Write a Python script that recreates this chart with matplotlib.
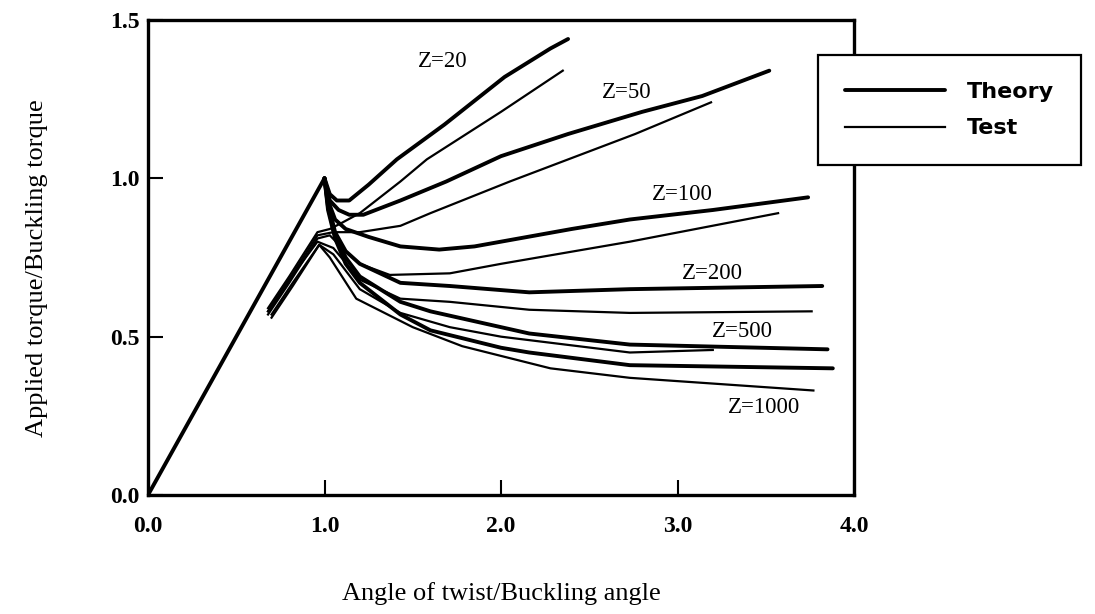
import matplotlib.pyplot as plt

# normalised torque vs normalised twist
# linear pre-buckling part shared by all theory curves
rise_x = [0.0, 1.0]
rise_y = [0.0, 1.0]

# Z=20
th20_x = [1.00, 1.03, 1.07, 1.14, 1.25, 1.41, 1.68, 2.02, 2.28, 2.38]
th20_y = [1.00, 0.95, 0.93, 0.93, 0.98, 1.06, 1.17, 1.32, 1.41, 1.44]
te20_x = [0.68, 0.80, 0.96, 1.03, 1.10, 1.20, 1.43, 1.58, 2.00, 2.35]
te20_y = [0.59, 0.69, 0.83, 0.84, 0.86, 0.89, 0.99, 1.06, 1.21, 1.34]

# Z=50
th50_x = [1.00, 1.03, 1.08, 1.14, 1.22, 1.43, 1.69, 2.00, 2.38, 2.80, 3.14, 3.52]
th50_y = [1.00, 0.93, 0.90, 0.885, 0.885, 0.93, 0.99, 1.07, 1.14, 1.21, 1.26, 1.34]
te50_x = [0.68, 0.80, 0.96, 1.05, 1.20, 1.43, 1.60, 2.05, 2.76, 3.19]
te50_y = [0.58, 0.68, 0.82, 0.83, 0.83, 0.85, 0.89, 0.99, 1.14, 1.24]

# Z=100
th100_x = [1.00, 1.02, 1.06, 1.12, 1.25, 1.43, 1.65, 1.85, 2.00, 2.40, 2.73, 3.20, 3.74]
th100_y = [1.00, 0.93, 0.87, 0.84, 0.815, 0.785, 0.775, 0.785, 0.80, 0.84, 0.87, 0.90, 0.94]
te100_x = [0.68, 0.80, 0.96, 1.03, 1.10, 1.20, 1.37, 1.71, 2.00, 2.73, 3.57]
te100_y = [0.57, 0.67, 0.81, 0.82, 0.78, 0.73, 0.695, 0.70, 0.73, 0.80, 0.89]

# Z=200
th200_x = [1.00, 1.02, 1.06, 1.12, 1.20, 1.43, 1.71, 2.16, 2.73, 3.82]
th200_y = [1.00, 0.92, 0.83, 0.77, 0.73, 0.67, 0.66, 0.64, 0.65, 0.66]
te200_x = [0.68, 0.80, 0.96, 1.05, 1.20, 1.43, 1.71, 2.16, 2.73, 3.76]
te200_y = [0.58, 0.68, 0.80, 0.78, 0.68, 0.62, 0.61, 0.585, 0.575, 0.58]

# Z=500
th500_x = [1.00, 1.02, 1.06, 1.12, 1.20, 1.43, 1.60, 2.00, 2.16, 2.73, 3.85]
th500_y = [1.00, 0.91, 0.82, 0.75, 0.69, 0.61, 0.58, 0.53, 0.51, 0.475, 0.46]
te500_x = [0.70, 0.82, 0.97, 1.05, 1.20, 1.43, 1.71, 2.00, 2.73, 3.20]
te500_y = [0.57, 0.67, 0.79, 0.76, 0.65, 0.575, 0.53, 0.50, 0.45, 0.458]

# Z=1000
th1000_x = [1.00, 1.02, 1.06, 1.12, 1.20, 1.43, 1.60, 2.00, 2.16, 2.73, 3.88]
th1000_y = [1.00, 0.90, 0.81, 0.73, 0.67, 0.57, 0.52, 0.465, 0.45, 0.41, 0.40]
te1000_x = [0.70, 0.82, 0.97, 1.03, 1.18, 1.50, 1.78, 2.28, 2.73, 3.77]
te1000_y = [0.56, 0.66, 0.79, 0.75, 0.62, 0.53, 0.47, 0.40, 0.37, 0.33]

z_labels = ["Z=20", "Z=50", "Z=100", "Z=200", "Z=500", "Z=1000"]
z_label_x = [1.67, 2.71, 3.03, 3.20, 3.37, 3.49]
z_label_y = [1.37, 1.27, 0.95, 0.70, 0.515, 0.275]

xticks = [0.0, 1.0, 2.0, 3.0, 4.0]
yticks = [0.0, 0.5, 1.0, 1.5]

serif = "Liberation Serif"
lw_th = 2.8
lw_te = 1.6

fig = plt.figure(figsize=(10.95, 6.14), dpi=100)
ax = fig.add_axes([148 / 1095, 1 - 495 / 614, 706 / 1095, 475 / 614])

ax.plot(rise_x, rise_y, color="black", lw=lw_th, label="Theory", solid_capstyle="round")
theory = [(th20_x, th20_y), (th50_x, th50_y), (th100_x, th100_y),
          (th200_x, th200_y), (th500_x, th500_y), (th1000_x, th1000_y)]
tests = [(te20_x, te20_y), (te50_x, te50_y), (te100_x, te100_y),
         (te200_x, te200_y), (te500_x, te500_y), (te1000_x, te1000_y)]
for xs, ys in theory:
    ax.plot(xs, ys, color="black", lw=lw_th, solid_capstyle="round", solid_joinstyle="round")
for i, (xs, ys) in enumerate(tests):
    ax.plot(xs, ys, color="black", lw=lw_te, solid_joinstyle="round",
            label="Test" if i == 0 else None)

for lab, x, y in zip(z_labels, z_label_x, z_label_y):
    ax.text(x, y, lab, ha="center", va="center", fontsize=16.5, family=serif)

ax.set_xlim(0, 4)
ax.set_ylim(0, 1.5)
ax.set_xticks(xticks)
ax.set_xticklabels([f"{t:.1f}" for t in xticks])
ax.set_yticks(yticks)
ax.set_yticklabels([f"{t:.1f}" for t in yticks])
ax.tick_params(direction="in", length=11, width=1.5, labelsize=17)
ax.tick_params(axis="x", pad=15)
ax.tick_params(axis="y", pad=6)
for lab in ax.get_xticklabels() + ax.get_yticklabels():
    lab.set_family(serif)
    lab.set_fontweight("bold")
for sp in ax.spines.values():
    sp.set_linewidth(2.4)

fig.text(501 / 1095, 1 - 594 / 614, "Angle of twist/Buckling angle",
         ha="center", va="center", fontsize=19, family=serif)
fig.text(37 / 1095, 1 - 268 / 614, "Applied torque/Buckling torque",
         ha="center", va="center", rotation=90, fontsize=19, family=serif)

leg = fig.legend(loc="upper left", bbox_to_anchor=(818 / 1095, 1 - 55 / 614),
                 borderaxespad=0, frameon=True, fancybox=False, framealpha=1,
                 edgecolor="black", handlelength=4.5, handletextpad=1.0,
                 borderpad=1.2, labelspacing=0.75,
                 prop={"family": "DejaVu Sans", "weight": "bold", "size": 16})
leg.get_frame().set_linewidth(1.6)

fig.savefig("out.png", dpi=100)
